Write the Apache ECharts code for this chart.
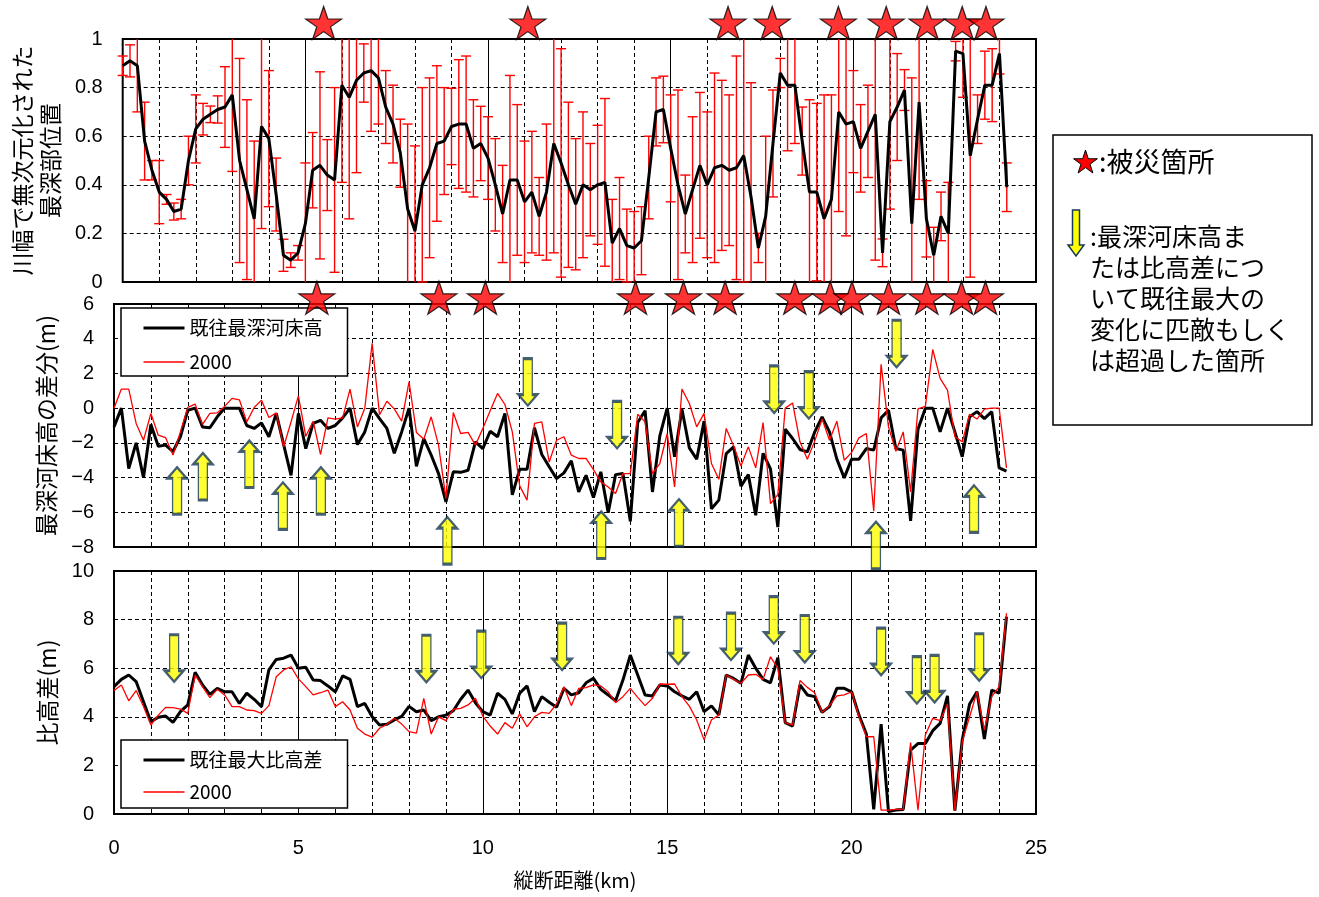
<!DOCTYPE html>
<html>
<head>
<meta charset="utf-8">
<script src="https://cdn.jsdelivr.net/npm/echarts/dist/echarts.min.js"></script>
<style>html,body{margin:0;padding:0;background:#fff}#c{width:1319px;height:897px}</style>
</head>
<body>
<div id="c"></div>
<script>
// ---------- DATA ----------
const distanceKm = [
  0,0.2,0.4,0.6,0.8,1,1.2,1.4,1.6,1.8,
  2,2.2,2.4,2.6,2.8,3,3.2,3.4,3.6,3.8,
  4,4.2,4.4,4.6,4.8,5,5.2,5.4,5.6,5.8,
  6,6.2,6.4,6.6,6.8,7,7.2,7.4,7.6,7.8,
  8,8.2,8.4,8.6,8.8,9,9.2,9.4,9.6,9.8,
  10,10.2,10.4,10.6,10.8,11,11.2,11.4,11.6,11.8,
  12,12.2,12.4,12.6,12.8,13,13.2,13.4,13.6,13.8,
  14,14.2,14.4,14.6,14.8,15,15.2,15.4,15.6,15.8,
  16,16.2,16.4,16.6,16.8,17,17.2,17.4,17.6,17.8,
  18,18.2,18.4,18.6,18.8,19,19.2,19.4,19.6,19.8,
  20,20.2,20.4,20.6,20.8,21,21.2,21.4,21.6,21.8,
  22,22.2,22.4,22.6,22.8,23,23.2,23.4,23.6,23.8,
  24,24.2
];
// 川幅で無次元化された最深部位置 (mean)
const deepestPosRatio = [
  0.89,0.91,0.89,0.58,0.46,0.37,0.34,0.29,0.30,0.50,
  0.63,0.67,0.69,0.71,0.72,0.77,0.50,0.38,0.26,0.64,
  0.59,0.36,0.11,0.09,0.12,0.24,0.46,0.48,0.44,0.42,
  0.81,0.76,0.83,0.86,0.87,0.84,0.72,0.65,0.53,0.30,
  0.21,0.40,0.47,0.57,0.58,0.64,0.65,0.65,0.55,0.57,
  0.51,0.40,0.28,0.42,0.42,0.33,0.37,0.27,0.37,0.57,
  0.49,0.40,0.32,0.40,0.38,0.40,0.41,0.16,0.22,0.15,
  0.14,0.17,0.43,0.70,0.71,0.55,0.40,0.28,0.38,0.48,
  0.40,0.47,0.48,0.46,0.47,0.52,0.35,0.14,0.27,0.57,
  0.86,0.81,0.81,0.58,0.37,0.37,0.26,0.34,0.70,0.65,
  0.66,0.55,0.62,0.69,0.12,0.66,0.72,0.79,0.24,0.74,
  0.26,0.11,0.27,0.20,0.95,0.94,0.52,0.67,0.81,0.81,
  0.94,0.39
];
// error bar half-width (±)
const deepestPosSpread = [
  0.04,0.066,0.19,0.16,0.04,0.13,0.02,0.035,0.04,0.10,
  0.14,0.065,0.034,0.056,0.166,0.315,0.42,0.37,0.32,0.42,
  0.28,0.15,0.066,0.03,0.03,0.25,0.155,0.385,0.146,0.38,
  0.40,0.50,0.38,0.12,0.25,0.19,0.15,0.16,0.14,0.35,
  0.35,0.40,0.37,0.32,0.22,0.157,0.265,0.28,0.20,0.153,
  0.17,0.19,0.20,0.43,0.31,0.25,0.25,0.16,0.28,0.45,
  0.47,0.34,0.27,0.30,0.19,0.245,0.345,0.18,0.21,0.15,
  0.15,0.14,0.17,0.14,0.137,0.22,0.39,0.16,0.30,0.30,
  0.30,0.39,0.35,0.31,0.46,0.52,0.47,0.06,0.33,0.22,
  0.06,0.27,0.24,0.14,0.38,0.365,0.51,0.43,0.41,0.46,
  0.21,0.18,0.19,0.60,0.057,0.36,0.22,0.084,0.6,0.4,
  0.157,0.115,0.1,0.21,0.04,0.18,0.5,0.1,0.14,0.15,
  0.084,0.10
];
// 最深河床高の差分 : 既往最深河床高
const bedDiffPast = [
  -1.08,0,-3.48,-2.0,-4.0,-0.94,-2.19,-2.13,-2.5,-1.65,
  -0.12,0,-1.08,-1.13,-0.5,0,0,0,-1.0,-1.17,
  -0.85,-1.65,-0.3,-2.1,-3.87,-0.3,-2.33,-0.88,-0.7,-1.17,
  -1.0,-0.56,0,-2.1,-1.37,0,-0.6,-1.17,-2.6,-1.37,
  0,-3.35,-1.75,-2.7,-3.77,-5.4,-3.67,-3.7,-3.58,-1.94,
  -2.33,-1.33,-1.65,-0.3,-5.0,-3.52,-3.52,-1.13,-2.67,-3.38,
  -4.06,-3.73,-3.04,-4.83,-3.87,-5.15,-3.67,-6.02,-3.83,-3.77,
  -6.52,-0.83,-0.15,-4.83,-1.6,0,-2.8,-0.06,-2.29,-2.94,
  -0.75,-5.8,-5.3,-2.62,-2.23,-4.5,-3.83,-6.17,-2.6,-3.5,
  -6.85,-1.21,-1.75,-2.38,-2.52,-1.37,-0.5,-1.37,-2.94,-4.02,
  -2.94,-2.94,-2.33,-2.42,-0.56,-0.12,-2.33,-2.42,-6.5,-1.21,
  0,0,-1.37,0,-1.37,-2.8,-0.5,-0.2,-0.6,-0.2,
  -3.44,-3.63
];
// 最深河床高の差分 : 2000
const bedDiff2000 = [
  0,1.1,1.1,-0.88,-1.85,-0.3,-1.56,-1.7,-2.7,-1.37,
  0.04,0.23,-0.94,-0.3,-0.27,0.1,0.56,0.48,-0.79,0.04,
  0.46,-0.54,-0.27,-2.23,-0.8,0.71,-1.62,-0.75,-2.67,-0.56,
  -0.63,-0.56,1.1,-1.08,0,3.73,-0.38,0.4,-0.04,-0.75,
  1.52,-1.4,-1.79,-0.5,-2.13,-5.2,-0.25,-1.46,-1.4,-2.13,
  -1.17,-0.15,0.85,0.21,-1.37,-4.48,-5.3,-0.88,-0.79,-3.1,
  -1.85,-1.65,-2.71,-2.9,-2.9,-3.54,-4.25,-4.54,-4.92,-3.77,
  -3.77,-0.35,-0.79,-3.77,-3.19,-1.46,-4.54,1.1,0.27,-1.08,
  -0.3,-3.19,-4.1,-1.17,-2.17,-3.33,-2.23,-3.44,-0.83,-5.5,
  -4.98,0,0.3,-1.94,-2.94,-1.9,-0.63,-1.85,-0.75,-3.0,
  -2.56,-1.71,-1.46,-5.94,2.52,-1.08,-2.48,-1.37,-4.83,-0.04,
  0.1,3.38,1.71,1.04,-1.65,-1.94,-0.35,-0.63,-0.06,0,
  0,-3.44
];
// 比高差 : 既往最大比高差
const reliefPastMax = [
  5.24,5.54,5.72,5.45,4.62,3.8,3.98,4.03,3.77,4.21,
  4.49,5.83,5.31,4.92,5.17,5.03,5.03,4.55,4.97,4.72,
  4.42,5.93,6.36,6.41,6.54,6.0,6.04,5.51,5.49,5.27,
  5.03,5.68,5.54,4.42,4.55,4.0,3.66,3.69,3.87,4.02,
  4.43,4.21,4.28,3.84,4.0,4.07,4.25,4.72,5.1,4.58,
  4.21,4.07,4.97,4.72,4.12,4.97,5.27,4.21,4.83,4.6,
  4.39,5.17,4.9,4.99,5.4,5.58,5.13,4.9,4.66,5.51,
  6.54,5.72,4.9,4.86,5.31,5.27,5.03,4.86,4.72,5.03,
  4.21,4.45,4.08,5.72,5.58,5.38,6.54,6.0,5.54,5.4,
  6.43,3.76,3.62,5.31,4.9,4.83,4.18,4.42,5.17,5.17,
  5.03,4.07,3.29,0.19,3.7,0.1,0.16,0.19,2.63,2.9,
  2.9,3.43,3.73,4.86,0.14,3.05,4.53,5.03,3.09,5.1,
  4.97,8.12
];
// 比高差 : 2000
const relief2000 = [
  5.08,5.31,4.66,5.08,4.42,3.66,4.07,4.39,4.38,4.32,
  4.14,5.72,5.24,4.79,5.13,4.9,4.42,4.42,4.28,4.25,
  4.14,4.46,5.65,5.93,6.06,5.56,5.24,4.9,4.99,5.1,
  4.42,4.62,4.28,3.53,3.29,3.16,3.53,3.69,3.94,3.7,
  3.39,3.33,4.76,3.29,4.0,3.84,4.31,4.35,4.49,4.76,
  4.03,3.62,3.29,3.76,3.53,4.12,3.59,4.0,4.18,4.14,
  4.53,5.24,4.46,5.17,5.2,5.31,5.27,5.03,4.58,4.83,
  5.17,4.8,4.46,4.76,5.35,5.34,5.35,4.83,4.44,3.87,
  3.05,3.88,4.07,5.72,5.54,5.38,5.72,5.75,5.54,6.47,
  6.0,3.76,3.66,5.49,5.21,4.99,4.18,4.46,4.86,4.9,
  5.03,4.0,3.18,3.18,0.16,0.16,0.19,0.19,2.94,0.16,
  3.25,3.94,3.84,4.53,0.14,2.98,4.0,5.03,3.46,4.83,
  5.24,8.26
];
// 被災箇所 (km)
const disasterKmTop = [5.5, 11.09, 16.57, 17.78, 19.59, 20.9, 22.02, 22.98, 23.63];
const disasterKmMid = [5.5, 8.81, 10.07, 14.14, 15.44, 16.57, 18.46, 19.42, 20.01, 21.0, 22.04, 22.98, 23.63];
// 既往最大に匹敵・超過 (km, value on panel)
const arrowsMidUp = [[1.71,-4.76],[2.41,-3.94],[3.67,-3.22],[4.58,-5.63],[5.61,-4.76],[9.04,-7.63],[13.21,-7.31],[15.32,-6.6],[20.66,-7.9],[23.32,-5.8]];
const arrowsMidDown = [[11.22,1.5],[13.64,-0.96],[17.9,1.08],[18.84,0.75],[21.22,3.71]];
const arrowsLowDown = [[1.63,6.41],[8.47,6.39],[9.96,6.56],[12.15,6.89],[15.3,7.13],[16.73,7.3],[17.89,7.98],[18.73,7.2],[20.8,6.68],[21.77,5.51],[22.25,5.56],[23.46,6.45]];
const xTicks = [0, 5, 10, 15, 20, 25];

// ---------- STYLE ----------
const CJK = '"Noto Sans CJK JP", sans-serif';
const NUM = '"Liberation Sans", Arial, sans-serif';
const STAR = 'path://M50,0 L61.2,34.5 L97.6,34.5 L68.2,55.9 L79.4,90.5 L50,69.1 L20.6,90.5 L31.8,55.9 L2.4,34.5 L38.8,34.5 Z';
const UP = 'path://M9.5,0 L19,11 L14,11 L14,47 L5,47 L5,11 L0,11 Z';
const DOWN = 'path://M5,0 L14,0 L14,36 L19,36 L9.5,47 L0,36 L5,36 Z';
const starPts = [[50,0],[61.2,34.5],[97.6,34.5],[68.2,55.9],[79.4,90.5],[50,69.1],[20.6,90.5],[31.8,55.9],[2.4,34.5],[38.8,34.5]];

const zip = (a) => distanceKm.map((x, i) => [x, a[i]]);

const dashed = {color:'#000', width:1, type:[4,3]};
function xAxis(gi, show) {
  return {
    type:'value', gridIndex:gi, min:xTicks[0], max:xTicks[xTicks.length-1], interval:5,
    axisLine:{show:false}, axisTick:{show:false},
    axisLabel:{show:show, margin:24, fontSize:20, color:'#000', fontFamily:NUM},
    splitLine:{show:true, lineStyle:{color:'#000', width:1}},
    minorTick:{show:false, splitNumber:5},
    minorSplitLine:{show:true, lineStyle:dashed},
    name: show ? '縦断距離(km)' : '', nameLocation:'middle', nameGap:56,
    nameTextStyle:{fontSize:20, color:'#000', fontFamily:CJK}
  };
}
function yAxis(gi, min, max, interval, name, fmt) {
  return {
    type:'value', gridIndex:gi, min, max, interval,
    axisLine:{show:false}, axisTick:{show:false},
    axisLabel:{margin:20, fontSize:20, color:'#000', fontFamily:NUM, formatter:fmt},
    splitLine:{show:true, lineStyle:dashed},
    name, nameLocation:'middle', nameRotate:90, nameGap:49,
    nameTextStyle:{fontSize:23, color:'#000', fontFamily:CJK, lineHeight:28}
  };
}

function errRender(params, api) {
  const x = api.value(0), y = api.value(1), e = api.value(2);
  const hi = Math.min(1, y + e), lo = Math.max(0, y - e);
  const pH = api.coord([x, hi]), pL = api.coord([x, lo]);
  const st = {stroke:'#ff0000', lineWidth:1.4};
  const ch = [{type:'line', shape:{x1:pH[0], y1:pH[1], x2:pL[0], y2:pL[1]}, style:st}];
  if (y + e <= 1) ch.push({type:'line', shape:{x1:pH[0]-5, y1:pH[1], x2:pH[0]+5, y2:pH[1]}, style:st});
  if (y - e >= 0) ch.push({type:'line', shape:{x1:pL[0]-5, y1:pL[1], x2:pL[0]+5, y2:pL[1]}, style:st});
  return {type:'group', children:ch};
}

const starStyle = {color:'#ff0000', borderColor:'#000', borderWidth:1.2};
const arrowStyle = {color:'#ffff00', borderColor:'#17375e', borderWidth:2};
const lineBlack = {color:'#000', width:3};
const lineRed = {color:'#ff0000', width:1.3};
const hiddenSym = {color:'rgba(0,0,0,0)', borderColor:'rgba(0,0,0,0)', borderWidth:0, opacity:0};
const legBlack = (n) => ({name:n, itemStyle:hiddenSym, lineStyle:{color:'#000', width:3}});
const legRed = (n) => ({name:n, itemStyle:hiddenSym, lineStyle:{color:'#ff0000', width:1.3}});

const chart = echarts.init(document.getElementById('c'), null, {renderer:'canvas'});
const option = {
  animation:false,
  backgroundColor:'#fff',
  grid:[
    {left:114, top:39, width:922, height:243, show:true, borderColor:'#000', borderWidth:2, backgroundColor:'transparent'},
    {left:114, top:304, width:922, height:243, show:true, borderColor:'#000', borderWidth:2, backgroundColor:'transparent'},
    {left:114, top:571, width:922, height:243, show:true, borderColor:'#000', borderWidth:2, backgroundColor:'transparent'}
  ],
  xAxis:[xAxis(0,false), xAxis(1,false), xAxis(2,true)],
  yAxis:[
    yAxis(0, 0, 1, 0.2, '川幅で無次元化された\n最深部位置', v => String(v)),
    yAxis(1, -8, 6, 2, '最深河床高の差分(m)', v => String(v).replace('-', '−')),
    yAxis(2, 0, 10, 2, '比高差(m)', v => String(v))
  ],
  legend:[
    {data:[legBlack('既往最深河床高'), legRed('2000')], left:121, top:308, orient:'vertical', selectedMode:false,
     itemWidth:41, itemHeight:14, itemGap:14, padding:[10,25,4,21], itemStyle:hiddenSym,
     backgroundColor:'#fff', borderColor:'#000', borderWidth:1.5,
     textStyle:{fontSize:19, lineHeight:20, color:'#000', fontFamily:CJK}},
    {data:[legBlack('既往最大比高差'), legRed('2000')], left:121, top:740, orient:'vertical', selectedMode:false,
     itemWidth:41, itemHeight:14, itemGap:12, padding:[10,25,6,21], itemStyle:hiddenSym,
     backgroundColor:'#fff', borderColor:'#000', borderWidth:1.5,
     textStyle:{fontSize:19, lineHeight:20, color:'#000', fontFamily:CJK}}
  ],
  series:[
    {type:'custom', name:'ばらつき', xAxisIndex:0, yAxisIndex:0, silent:true, z:2,
     renderItem:errRender, encode:{x:0, y:1},
     data:distanceKm.map((x,i)=>[x, deepestPosRatio[i], deepestPosSpread[i]])},
    {type:'line', name:'最深部位置', xAxisIndex:0, yAxisIndex:0, symbol:'none', z:3,
     lineStyle:lineBlack, itemStyle:{color:'#000'}, data:zip(deepestPosRatio)},
    {type:'line', name:'既往最深河床高', xAxisIndex:1, yAxisIndex:1, symbol:'none', z:3,
     lineStyle:lineBlack, itemStyle:{color:'#000'}, data:zip(bedDiffPast)},
    {type:'line', name:'2000', xAxisIndex:1, yAxisIndex:1, symbol:'none', z:3,
     lineStyle:lineRed, itemStyle:{color:'#ff0000'}, data:zip(bedDiff2000)},
    {type:'line', name:'既往最大比高差', xAxisIndex:2, yAxisIndex:2, symbol:'none', z:3,
     lineStyle:lineBlack, itemStyle:{color:'#000'}, data:zip(reliefPastMax)},
    {type:'line', name:'2000', xAxisIndex:2, yAxisIndex:2, symbol:'none', z:3,
     lineStyle:lineRed, itemStyle:{color:'#ff0000'}, data:zip(relief2000)},
    {type:'scatter', name:'被災箇所(上)', xAxisIndex:0, yAxisIndex:0, clip:false, z:10, silent:true,
     symbol:STAR, symbolSize:[36,33], itemStyle:starStyle,
     data:disasterKmTop.map(k=>[k, 1.066])},
    {type:'scatter', name:'被災箇所(中)', xAxisIndex:1, yAxisIndex:1, clip:false, z:10, silent:true,
     symbol:STAR, symbolSize:[36,33], itemStyle:starStyle,
     data:disasterKmMid.map(k=>[k, 6.36])},
    {type:'scatter', name:'上矢印', xAxisIndex:1, yAxisIndex:1, clip:false, z:9, silent:true,
     symbol:UP, symbolSize:[19,47], itemStyle:arrowStyle, data:arrowsMidUp},
    {type:'scatter', name:'下矢印', xAxisIndex:1, yAxisIndex:1, clip:false, z:9, silent:true,
     symbol:DOWN, symbolSize:[19,47], itemStyle:arrowStyle, data:arrowsMidDown},
    {type:'scatter', name:'下矢印2', xAxisIndex:2, yAxisIndex:2, clip:false, z:9, silent:true,
     symbol:DOWN, symbolSize:[19,47], itemStyle:arrowStyle, data:arrowsLowDown}
  ],
  graphic:[
    {type:'rect', shape:{x:1053, y:135, width:259, height:290}, style:{fill:'#fff', stroke:'#000', lineWidth:1.5}, z:100},
    {type:'polygon', shape:{points:starPts.map(([x,y])=>[1073 + x*0.25, 150 + y*0.254])}, style:{fill:'#ff0000', stroke:'#000', lineWidth:1}, z:101},
    {type:'text', x:1099, y:162, style:{text:':被災箇所', font:'27px "Noto Sans CJK JP"', fill:'#000', verticalAlign:'middle'}, z:101},
    {type:'polygon', shape:{points:[[1072.5,210],[1079.5,210],[1079.5,245],[1084,245],[1076,256],[1068,245],[1072.5,245]]}, style:{fill:'#ffff00', stroke:'#17375e', lineWidth:1.5}, z:101},
    {type:'text', x:1090, y:221, style:{text:':最深河床高ま\nたは比高差につ\nいて既往最大の\n変化に匹敵もしく\nは超過した箇所', font:'25px "Noto Sans CJK JP"', lineHeight:31, fill:'#000', verticalAlign:'top'}, z:101}
  ]
};
chart.setOption(option);
</script>
</body>
</html>
